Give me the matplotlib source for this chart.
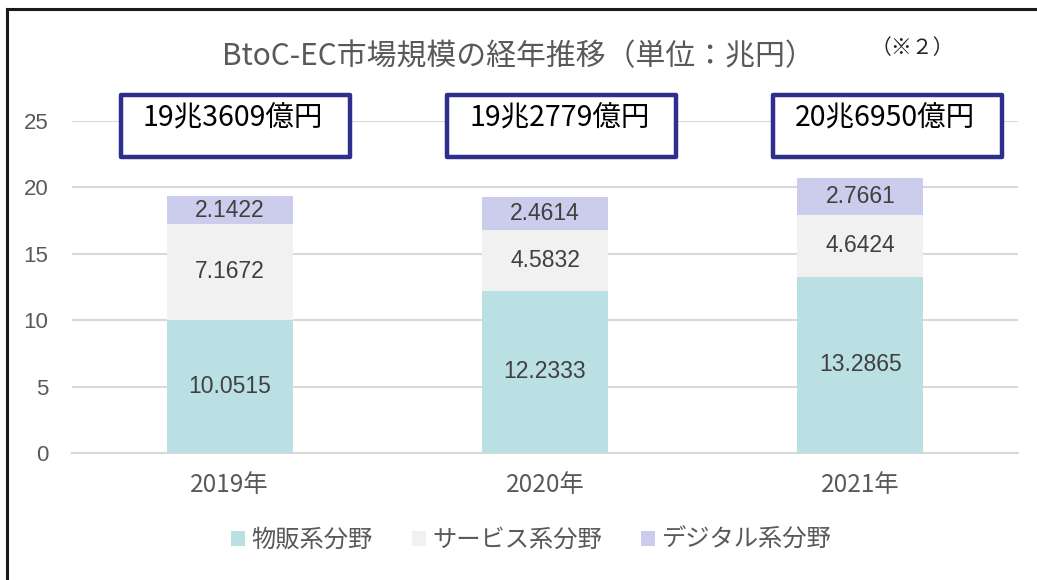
import matplotlib
matplotlib.use("Agg")
import matplotlib.pyplot as plt
from matplotlib.patches import Rectangle, Patch
import numpy as np

plt.rcParams['font.family'] = ['Liberation Sans', 'Noto Sans CJK JP', 'DejaVu Sans']

# ---- data ----
categories = ["2019年", "2020年", "2021年"]
series_names = ["物販系分野", "サービス系分野", "デジタル系分野"]
goods = [10.0515, 12.2333, 13.2865]
services = [7.1672, 4.5832, 4.6424]
digital = [2.1422, 2.4614, 2.7661]
totals_text = ["19兆3609億円", "19兆2779億円", "20兆6950億円"]
yticks = [0, 5, 10, 15, 20, 25]
title = "BtoC-EC市場規模の経年推移（単位：兆円）"
note = "（※２）"

colors = ["#BAE0E3", "#F1F1F1", "#CCCCEC"]
label_color = "#404040"
gray = "#595959"
navy = "#2E2E8C"

W, H = 1037, 580
fig = plt.figure(figsize=(W / 100, H / 100), dpi=100)
ax = fig.add_axes([72 / W, 1 - 453 / H, (1018 - 72) / W, (453 - 121) / H])

x = np.arange(len(categories))
width = 0.4
series = [goods, services, digital]
bottom = np.zeros(len(categories))
for vals, col, name in zip(series, colors, series_names):
    vals = np.array(vals)
    ax.bar(x, vals, width, bottom=bottom, color=col, label=name, zorder=3)
    for xi, b, v in zip(x, bottom, vals):
        ax.text(xi, b + v / 2, f"{v:.4f}", ha="center", va="center",
                fontsize=16.5, color=label_color, zorder=4)
    bottom = bottom + vals

ax.set_xlim(-0.5, len(categories) - 0.5)
ax.set_ylim(0, 25)
ax.set_yticks(yticks)
ax.set_yticklabels([str(t) for t in yticks], fontsize=16, color=gray)
ax.set_xticks(x)
ax.set_xticklabels(categories, fontsize=17.5, color=gray,
                   family=['Noto Sans CJK JP', 'DejaVu Sans'])
ax.tick_params(axis='both', length=0)
ax.tick_params(axis='y', pad=17)
ax.tick_params(axis='x', pad=14)
ax.grid(axis='y', color="#D9D9D9", linewidth=1.5, zorder=0)
for s in ["top", "right", "left"]:
    ax.spines[s].set_visible(False)
ax.spines["bottom"].set_color("#D9D9D9")
ax.spines["bottom"].set_linewidth(1.5)
ax.set_axisbelow(True)

# total boxes (positions relative to each category, in data units)
box_left_off = [-0.345, -0.311, -0.277]
box_w = 0.726
for xi, off, txt in zip(x, box_left_off, totals_text):
    r = Rectangle((xi + off, 22.3), box_w, 4.65, fill=True, facecolor="white",
                  edgecolor=navy, linewidth=3.2, clip_on=False, zorder=5,
                  joinstyle="round")
    ax.add_patch(r)
    ax.text(xi + off + 0.07, 25.2, txt, ha="left", va="center", fontsize=20.5,
            color="black", family=['Noto Sans CJK JP', 'DejaVu Sans'],
            zorder=6, clip_on=False)

# title and note
fig.text(518 / W, 1 - 57 / H, title, ha="center", va="center", fontsize=21.5,
         color=gray, family=['Noto Sans CJK JP', 'DejaVu Sans'])
fig.text(912 / W, 1 - 48 / H, note, ha="center", va="center", fontsize=15,
         color="#262626", family=['Noto Sans CJK JP', 'DejaVu Sans'])

# legend
handles = [Patch(facecolor=c, edgecolor='none') for c in colors]
fig.legend(handles, series_names, loc="center", bbox_to_anchor=(531 / W, 1 - 540 / H),
           ncol=3, frameon=False, handlelength=0.6, handleheight=0.6,
           handletextpad=0.25, columnspacing=1.6,
           prop={'family': ['Noto Sans CJK JP', 'DejaVu Sans'], 'size': 17.5},
           labelcolor=gray)

# outer frame (top and left edges)
fig.add_artist(plt.Line2D([7 / W, 1], [1 - 9 / H, 1 - 9 / H], color="#1a1a1a",
                          linewidth=2.2, transform=fig.transFigure))
fig.add_artist(plt.Line2D([7 / W, 7 / W], [0, 1 - 9 / H], color="#1a1a1a",
                          linewidth=2.2, transform=fig.transFigure))

fig.savefig("out.png", dpi=100)
